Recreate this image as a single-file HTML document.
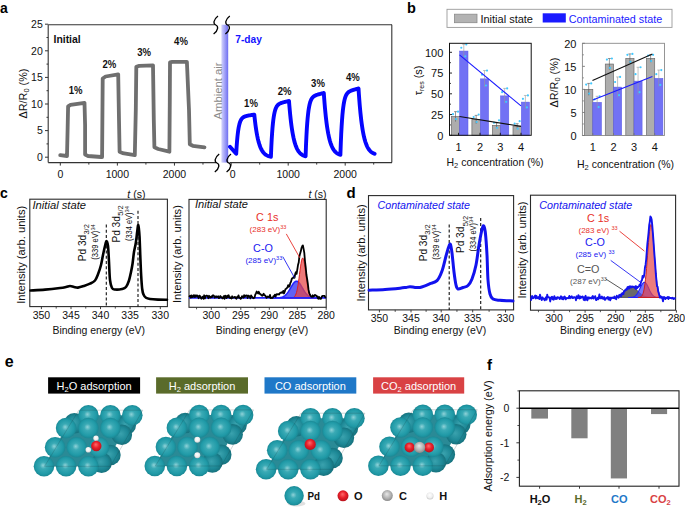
<!DOCTYPE html><html><head><meta charset="utf-8"><style>html,body{margin:0;padding:0;background:#fff;width:685px;height:513px;overflow:hidden}</style></head><body><svg width="685" height="513" viewBox="0 0 685 513" style="display:block">
<defs>
<linearGradient id="amb" x1="0" x2="1" y1="0" y2="0"><stop offset="0" stop-color="#d4d4fb"/><stop offset="1" stop-color="#6e6ef2"/></linearGradient>
<radialGradient id="pd" cx="0.5" cy="0.5" r="0.55" fx="0.45" fy="0.45"><stop offset="0" stop-color="#8fd2d8"/><stop offset="0.3" stop-color="#3aaab5"/><stop offset="0.72" stop-color="#209aa7"/><stop offset="1" stop-color="#187f8b"/></radialGradient>
<radialGradient id="pdb" cx="0.5" cy="0.5" r="0.55" fx="0.45" fy="0.45"><stop offset="0" stop-color="#3aa2ae"/><stop offset="0.6" stop-color="#1d8896"/><stop offset="1" stop-color="#156b76"/></radialGradient>
<radialGradient id="ox" cx="0.5" cy="0.45" r="0.6" fx="0.45" fy="0.35"><stop offset="0" stop-color="#ff6a6a"/><stop offset="0.5" stop-color="#e8202a"/><stop offset="1" stop-color="#b0101a"/></radialGradient>
<radialGradient id="hy" cx="0.5" cy="0.45" r="0.6" fx="0.45" fy="0.35"><stop offset="0" stop-color="#ffffff"/><stop offset="0.6" stop-color="#f0f0f0"/><stop offset="1" stop-color="#c0c0c0"/></radialGradient>
<radialGradient id="ca" cx="0.5" cy="0.45" r="0.6" fx="0.45" fy="0.35"><stop offset="0" stop-color="#e8e8e8"/><stop offset="0.6" stop-color="#b0b0b0"/><stop offset="1" stop-color="#808080"/></radialGradient>
</defs>
<rect width="685" height="513" fill="#fff"/>
<g font-family='"Liberation Sans", sans-serif'>
<text x="0.00" y="12.50" font-size="14" fill="#000" font-weight="bold" >a</text>
<line x1="48.20" y1="24.70" x2="214.50" y2="24.70" stroke="#333" stroke-width="1.1" />
<line x1="48.20" y1="162.60" x2="216.50" y2="162.60" stroke="#333" stroke-width="1.1" />
<line x1="48.20" y1="24.70" x2="48.20" y2="162.60" stroke="#333" stroke-width="1.1" />
<line x1="228.00" y1="24.70" x2="392.00" y2="24.70" stroke="#333" stroke-width="1.1" />
<line x1="229.50" y1="162.60" x2="392.00" y2="162.60" stroke="#333" stroke-width="1.1" />
<line x1="391.80" y1="24.70" x2="391.80" y2="162.60" stroke="#333" stroke-width="1.1" />
<rect x="221.40" y="24.70" width="6.80" height="137.90" fill="url(#amb)" stroke="none" stroke-width="1" />
<path d="M218.00,16 C212.80,20 213.30,24 215.80,25.00 C218.30,26 218.80,30 213.60,34" fill="none" stroke="#000" stroke-width="1.3"/>
<path d="M229.80,16 C224.60,20 225.10,24 227.60,25.00 C230.10,26 230.60,30 225.40,34" fill="none" stroke="#000" stroke-width="1.3"/>
<path d="M219.20,154 C214.00,158 214.50,162 217.00,163.00 C219.50,164 220.00,168 214.80,172" fill="none" stroke="#000" stroke-width="1.3"/>
<path d="M231.00,154 C225.80,158 226.30,162 228.80,163.00 C231.30,164 231.80,168 226.60,172" fill="none" stroke="#000" stroke-width="1.3"/>
<line x1="45.00" y1="157.20" x2="48.20" y2="157.20" stroke="#333" stroke-width="1" />
<text x="42.80" y="160.90" font-size="10.5" fill="#111" text-anchor="end" >0</text>
<line x1="45.00" y1="130.60" x2="48.20" y2="130.60" stroke="#333" stroke-width="1" />
<text x="42.80" y="134.30" font-size="10.5" fill="#111" text-anchor="end" >5</text>
<line x1="45.00" y1="104.00" x2="48.20" y2="104.00" stroke="#333" stroke-width="1" />
<text x="42.80" y="107.70" font-size="10.5" fill="#111" text-anchor="end" >10</text>
<line x1="45.00" y1="77.40" x2="48.20" y2="77.40" stroke="#333" stroke-width="1" />
<text x="42.80" y="81.10" font-size="10.5" fill="#111" text-anchor="end" >15</text>
<line x1="45.00" y1="50.80" x2="48.20" y2="50.80" stroke="#333" stroke-width="1" />
<text x="42.80" y="54.50" font-size="10.5" fill="#111" text-anchor="end" >20</text>
<line x1="45.00" y1="24.20" x2="48.20" y2="24.20" stroke="#333" stroke-width="1" />
<text x="42.80" y="27.90" font-size="10.5" fill="#111" text-anchor="end" >25</text>
<line x1="46.50" y1="143.90" x2="48.20" y2="143.90" stroke="#333" stroke-width="1" />
<line x1="46.50" y1="117.30" x2="48.20" y2="117.30" stroke="#333" stroke-width="1" />
<line x1="46.50" y1="90.70" x2="48.20" y2="90.70" stroke="#333" stroke-width="1" />
<line x1="46.50" y1="64.10" x2="48.20" y2="64.10" stroke="#333" stroke-width="1" />
<line x1="46.50" y1="37.50" x2="48.20" y2="37.50" stroke="#333" stroke-width="1" />
<line x1="60.30" y1="162.60" x2="60.30" y2="165.60" stroke="#333" stroke-width="1" />
<text x="60.30" y="177.50" font-size="10.5" fill="#111" text-anchor="middle" >0</text>
<line x1="117.37" y1="162.60" x2="117.37" y2="165.60" stroke="#333" stroke-width="1" />
<text x="117.37" y="177.50" font-size="10.5" fill="#111" text-anchor="middle" >1000</text>
<line x1="174.44" y1="162.60" x2="174.44" y2="165.60" stroke="#333" stroke-width="1" />
<text x="174.44" y="177.50" font-size="10.5" fill="#111" text-anchor="middle" >2000</text>
<line x1="88.83" y1="162.60" x2="88.83" y2="164.60" stroke="#333" stroke-width="1" />
<line x1="145.91" y1="162.60" x2="145.91" y2="164.60" stroke="#333" stroke-width="1" />
<line x1="202.98" y1="162.60" x2="202.98" y2="164.60" stroke="#333" stroke-width="1" />
<line x1="231.20" y1="162.60" x2="231.20" y2="165.60" stroke="#333" stroke-width="1" />
<text x="232.70" y="177.50" font-size="10.5" fill="#111" text-anchor="middle" >0</text>
<line x1="288.20" y1="162.60" x2="288.20" y2="165.60" stroke="#333" stroke-width="1" />
<text x="288.20" y="177.50" font-size="10.5" fill="#111" text-anchor="middle" >1000</text>
<line x1="345.20" y1="162.60" x2="345.20" y2="165.60" stroke="#333" stroke-width="1" />
<text x="345.20" y="177.50" font-size="10.5" fill="#111" text-anchor="middle" >2000</text>
<line x1="259.70" y1="162.60" x2="259.70" y2="164.60" stroke="#333" stroke-width="1" />
<line x1="316.70" y1="162.60" x2="316.70" y2="164.60" stroke="#333" stroke-width="1" />
<line x1="373.70" y1="162.60" x2="373.70" y2="164.60" stroke="#333" stroke-width="1" />
<text x="27.00" y="93.50" font-size="10.8" fill="#111" text-anchor="middle" transform="rotate(-90 27.00 93.50)" >&#916;R/R<tspan font-size="7.5" dy="2">0</tspan><tspan dy="-2"> (%)</tspan></text>
<polyline points="60.20,155.20 67.00,156.00 67.60,130.00 68.10,106.30 70.50,104.80 84.50,102.80 85.10,125.00 85.10,154.60 88.00,156.00 101.20,157.00 102.10,157.00 102.70,78.50 105.60,76.50 118.20,74.40 119.00,120.00 119.60,151.70 122.60,153.10 134.80,155.20 135.80,110.00 136.30,66.80 139.20,65.90 153.00,65.30 153.80,120.00 154.40,147.30 158.20,149.00 169.40,151.70 169.80,100.00 170.00,62.40 172.30,61.80 186.90,61.80 189.00,110.00 189.80,144.30 192.80,145.80 204.50,147.30" fill="none" stroke="#6f6f6f" stroke-width="3.8" stroke-linejoin="round" stroke-linecap="round" />
<text x="53.50" y="42.50" font-size="10.2" fill="#111" font-weight="bold" textLength="27.2" lengthAdjust="spacingAndGlyphs" >Initial</text>
<text x="75.70" y="94.20" font-size="10.6" fill="#111" text-anchor="middle" font-weight="bold" textLength="13.8" lengthAdjust="spacingAndGlyphs" >1%</text>
<text x="109.40" y="67.90" font-size="10.6" fill="#111" text-anchor="middle" font-weight="bold" textLength="13.8" lengthAdjust="spacingAndGlyphs" >2%</text>
<text x="144.20" y="55.60" font-size="10.6" fill="#111" text-anchor="middle" font-weight="bold" textLength="13.8" lengthAdjust="spacingAndGlyphs" >3%</text>
<text x="181.00" y="44.50" font-size="10.6" fill="#111" text-anchor="middle" font-weight="bold" textLength="13.8" lengthAdjust="spacingAndGlyphs" >4%</text>
<text x="235.30" y="42.50" font-size="10.5" fill="#1414ff" font-weight="bold" textLength="26.6" lengthAdjust="spacingAndGlyphs" >7-day</text>
<text x="251.00" y="107.00" font-size="10.6" fill="#111" text-anchor="middle" font-weight="bold" textLength="13.8" lengthAdjust="spacingAndGlyphs" >1%</text>
<text x="284.60" y="95.30" font-size="10.6" fill="#111" text-anchor="middle" font-weight="bold" textLength="13.8" lengthAdjust="spacingAndGlyphs" >2%</text>
<text x="318.00" y="87.10" font-size="10.6" fill="#111" text-anchor="middle" font-weight="bold" textLength="13.8" lengthAdjust="spacingAndGlyphs" >3%</text>
<text x="352.80" y="80.50" font-size="10.6" fill="#111" text-anchor="middle" font-weight="bold" textLength="13.8" lengthAdjust="spacingAndGlyphs" >4%</text>
<text x="218.00" y="91.00" font-size="11" fill="#8a8a8a" text-anchor="middle" textLength="57" lengthAdjust="spacingAndGlyphs" transform="rotate(-90 218.00 91.00)" dy="3.5">Ambient air</text>
<polyline points="230.00,146.80 236.20,153.80 236.60,147.10 237.00,141.60 237.41,137.10 237.81,133.41 238.21,130.37 238.61,127.88 239.02,125.83 239.42,124.15 239.82,122.76 240.22,121.61 240.62,120.66 241.03,119.87 241.43,119.22 241.83,118.67 242.23,118.21 242.64,117.82 243.04,117.50 243.44,117.22 243.84,116.98 244.24,116.77 244.65,116.59 245.05,116.44 245.45,116.29 245.85,116.17 246.26,116.05 246.66,115.95 247.06,115.85 247.46,115.76 247.86,115.68 248.27,115.60 248.67,115.52 249.07,115.45 249.47,115.38 249.88,115.31 250.28,115.24 250.68,115.17 251.08,115.10 251.48,115.04 251.89,114.98 252.29,114.91 252.69,114.85 253.09,114.79 253.50,114.72 253.90,114.66 254.30,114.60 254.70,118.47 255.11,122.00 255.51,125.21 255.92,128.13 256.32,130.79 256.73,133.21 257.13,135.41 257.54,137.41 257.94,139.24 258.35,140.90 258.75,142.41 259.16,143.78 259.56,145.03 259.97,146.17 260.37,147.21 260.78,148.15 261.18,149.01 261.59,149.79 261.99,150.50 262.40,151.15 262.80,151.74 263.21,152.28 263.61,152.76 264.02,153.21 264.42,153.61 264.83,153.98 265.23,154.32 265.64,154.62 266.04,154.90 266.45,155.15 266.85,155.38 267.26,155.59 267.66,155.78 268.07,155.95 268.47,156.11 268.88,156.25 269.28,156.38 269.69,156.50 270.09,156.61 270.50,156.71 270.90,156.80 271.30,147.26 271.70,139.44 272.11,133.03 272.51,127.77 272.91,123.45 273.31,119.91 273.72,116.99 274.12,114.59 274.52,112.61 274.92,110.98 275.32,109.63 275.73,108.50 276.13,107.57 276.53,106.79 276.93,106.14 277.34,105.59 277.74,105.12 278.14,104.73 278.54,104.39 278.94,104.09 279.35,103.84 279.75,103.61 280.15,103.41 280.55,103.23 280.96,103.07 281.36,102.92 281.76,102.78 282.16,102.66 282.56,102.53 282.97,102.42 283.37,102.31 283.77,102.21 284.17,102.10 284.58,102.00 284.98,101.91 285.38,101.81 285.78,101.72 286.18,101.63 286.59,101.54 286.99,101.44 287.39,101.35 287.79,101.27 288.20,101.18 288.60,101.09 289.00,101.00 289.40,106.08 289.81,110.70 290.21,114.90 290.62,118.73 291.02,122.21 291.43,125.38 291.83,128.27 292.24,130.89 292.64,133.28 293.05,135.46 293.45,137.44 293.86,139.24 294.26,140.88 294.67,142.37 295.07,143.73 295.48,144.97 295.88,146.09 296.29,147.12 296.69,148.05 297.10,148.90 297.50,149.67 297.91,150.37 298.31,151.01 298.72,151.59 299.12,152.12 299.53,152.61 299.93,153.04 300.34,153.44 300.74,153.81 301.15,154.14 301.55,154.44 301.96,154.71 302.36,154.96 302.77,155.19 303.17,155.40 303.58,155.58 303.98,155.76 304.39,155.91 304.79,156.05 305.20,156.18 305.60,156.30 306.00,145.42 306.41,136.52 306.81,129.23 307.22,123.25 307.62,118.35 308.03,114.33 308.43,111.03 308.84,108.31 309.24,106.08 309.64,104.23 310.05,102.71 310.45,101.44 310.86,100.39 311.26,99.52 311.67,98.78 312.07,98.17 312.48,97.64 312.88,97.20 313.28,96.82 313.69,96.49 314.09,96.20 314.50,95.95 314.90,95.72 315.31,95.52 315.71,95.34 316.12,95.17 316.52,95.02 316.92,94.87 317.33,94.74 317.73,94.61 318.14,94.48 318.54,94.36 318.95,94.25 319.35,94.14 319.76,94.03 320.16,93.92 320.56,93.81 320.97,93.71 321.37,93.61 321.78,93.50 322.18,93.40 322.59,93.30 322.99,93.20 323.40,93.10 323.80,93.00 324.20,98.67 324.61,103.84 325.01,108.54 325.42,112.81 325.82,116.70 326.23,120.25 326.63,123.47 327.04,126.41 327.44,129.08 327.85,131.51 328.25,133.72 328.66,135.73 329.06,137.57 329.47,139.24 329.87,140.75 330.28,142.13 330.68,143.39 331.09,144.54 331.49,145.58 331.90,146.53 332.30,147.39 332.71,148.18 333.11,148.89 333.52,149.54 333.92,150.13 334.33,150.67 334.73,151.16 335.14,151.61 335.54,152.01 335.95,152.38 336.35,152.72 336.76,153.03 337.16,153.31 337.57,153.56 337.97,153.79 338.38,154.00 338.78,154.19 339.19,154.37 339.59,154.52 340.00,154.67 340.40,154.80 340.80,143.46 341.20,134.17 341.61,126.55 342.01,120.31 342.41,115.18 342.81,110.97 343.22,107.50 343.62,104.65 344.02,102.30 344.42,100.36 344.82,98.75 345.23,97.42 345.63,96.31 346.03,95.38 346.43,94.61 346.84,93.95 347.24,93.40 347.64,92.93 348.04,92.52 348.44,92.18 348.85,91.87 349.25,91.60 349.65,91.37 350.05,91.15 350.46,90.96 350.86,90.78 351.26,90.62 351.66,90.47 352.06,90.32 352.47,90.19 352.87,90.06 353.27,89.93 353.67,89.81 354.08,89.69 354.48,89.58 354.88,89.47 355.28,89.35 355.68,89.24 356.09,89.14 356.49,89.03 356.89,88.92 357.29,88.82 357.70,88.71 358.10,88.60 358.50,88.50 358.90,94.48 359.31,99.92 359.71,104.87 360.11,109.39 360.51,113.50 360.92,117.24 361.32,120.65 361.72,123.75 362.12,126.58 362.52,129.15 362.93,131.50 363.33,133.63 363.73,135.57 364.13,137.34 364.54,138.96 364.94,140.42 365.34,141.76 365.75,142.98 366.15,144.09 366.55,145.10 366.95,146.01 367.36,146.85 367.76,147.61 368.16,148.31 368.56,148.94 368.96,149.52 369.37,150.04 369.77,150.52 370.17,150.95 370.57,151.35 370.98,151.71 371.38,152.04 371.78,152.34 372.19,152.61 372.59,152.86 372.99,153.08 373.39,153.29 373.80,153.47 374.20,153.64 374.60,153.80" fill="none" stroke="#0505ff" stroke-width="3.9" stroke-linejoin="round" stroke-linecap="round" />
<text x="407.00" y="13.20" font-size="14.5" fill="#000" font-weight="bold" >b</text>
<rect x="447.00" y="9.30" width="225.00" height="18.10" fill="#fff" stroke="#9a9a9a" stroke-width="0.9" />
<rect x="454.50" y="14.20" width="22.50" height="8.50" fill="#b3b3b3" stroke="#8a8a8a" stroke-width="0.8" />
<text x="480.40" y="23.20" font-size="11.6" fill="#111" textLength="52.6" lengthAdjust="spacingAndGlyphs" >Initial state</text>
<rect x="542.70" y="13.30" width="23.10" height="9.20" fill="#1a1aff" stroke="none" stroke-width="1" />
<text x="568.80" y="23.20" font-size="11.6" fill="#1a1aff" textLength="93.4" lengthAdjust="spacingAndGlyphs" >Contaminated state</text>
<rect x="451.40" y="116.63" width="8.20" height="18.67" fill="#adadad" stroke="#6a6a6a" stroke-width="0.7" />
<rect x="459.60" y="51.06" width="8.40" height="84.24" fill="#7272f4" stroke="#5a5ae8" stroke-width="0.5" />
<line x1="455.50" y1="121.61" x2="455.50" y2="111.65" stroke="#555" stroke-width="0.6" />
<line x1="454.00" y1="111.65" x2="457.00" y2="111.65" stroke="#555" stroke-width="0.6" />
<line x1="463.80" y1="57.70" x2="463.80" y2="44.42" stroke="#999" stroke-width="0.6" />
<line x1="462.30" y1="44.42" x2="465.30" y2="44.42" stroke="#999" stroke-width="0.6" />
<circle cx="453.00" cy="114.14" r="1.1" fill="#40c8ff"/>
<circle cx="458.00" cy="111.65" r="1.1" fill="#40c8ff"/>
<circle cx="456.00" cy="119.12" r="1.1" fill="#40c8ff"/>
<circle cx="461.30" cy="47.74" r="1.1" fill="#40c8ff"/>
<circle cx="466.30" cy="44.42" r="1.1" fill="#40c8ff"/>
<circle cx="465.30" cy="56.37" r="1.1" fill="#40c8ff"/>
<rect x="471.90" y="119.53" width="8.50" height="15.77" fill="#adadad" stroke="#6a6a6a" stroke-width="0.7" />
<rect x="480.40" y="78.86" width="8.20" height="56.44" fill="#7272f4" stroke="#5a5ae8" stroke-width="0.5" />
<line x1="476.15" y1="123.68" x2="476.15" y2="115.38" stroke="#555" stroke-width="0.6" />
<line x1="474.65" y1="115.38" x2="477.65" y2="115.38" stroke="#555" stroke-width="0.6" />
<line x1="484.50" y1="87.16" x2="484.50" y2="70.56" stroke="#999" stroke-width="0.6" />
<line x1="483.00" y1="70.56" x2="486.00" y2="70.56" stroke="#999" stroke-width="0.6" />
<circle cx="473.65" cy="117.04" r="1.1" fill="#40c8ff"/>
<circle cx="478.65" cy="114.55" r="1.1" fill="#40c8ff"/>
<circle cx="476.65" cy="122.02" r="1.1" fill="#40c8ff"/>
<circle cx="482.00" cy="74.71" r="1.1" fill="#40c8ff"/>
<circle cx="487.00" cy="70.56" r="1.1" fill="#40c8ff"/>
<circle cx="486.00" cy="85.50" r="1.1" fill="#40c8ff"/>
<rect x="492.50" y="125.34" width="8.00" height="9.96" fill="#adadad" stroke="#6a6a6a" stroke-width="0.7" />
<rect x="500.50" y="95.88" width="8.30" height="39.42" fill="#7272f4" stroke="#5a5ae8" stroke-width="0.5" />
<line x1="496.50" y1="127.83" x2="496.50" y2="122.85" stroke="#555" stroke-width="0.6" />
<line x1="495.00" y1="122.85" x2="498.00" y2="122.85" stroke="#555" stroke-width="0.6" />
<line x1="504.65" y1="103.35" x2="504.65" y2="88.41" stroke="#999" stroke-width="0.6" />
<line x1="503.15" y1="88.41" x2="506.15" y2="88.41" stroke="#999" stroke-width="0.6" />
<circle cx="494.00" cy="122.85" r="1.1" fill="#40c8ff"/>
<circle cx="499.00" cy="120.36" r="1.1" fill="#40c8ff"/>
<circle cx="497.00" cy="127.83" r="1.1" fill="#40c8ff"/>
<circle cx="502.15" cy="92.14" r="1.1" fill="#40c8ff"/>
<circle cx="507.15" cy="88.41" r="1.1" fill="#40c8ff"/>
<circle cx="506.15" cy="101.85" r="1.1" fill="#40c8ff"/>
<rect x="513.00" y="126.17" width="8.30" height="9.13" fill="#adadad" stroke="#6a6a6a" stroke-width="0.7" />
<rect x="521.30" y="102.10" width="8.20" height="33.20" fill="#7272f4" stroke="#5a5ae8" stroke-width="0.5" />
<line x1="517.15" y1="128.66" x2="517.15" y2="123.68" stroke="#555" stroke-width="0.6" />
<line x1="515.65" y1="123.68" x2="518.65" y2="123.68" stroke="#555" stroke-width="0.6" />
<line x1="525.40" y1="108.74" x2="525.40" y2="95.46" stroke="#999" stroke-width="0.6" />
<line x1="523.90" y1="95.46" x2="526.90" y2="95.46" stroke="#999" stroke-width="0.6" />
<circle cx="514.65" cy="123.68" r="1.1" fill="#40c8ff"/>
<circle cx="519.65" cy="121.19" r="1.1" fill="#40c8ff"/>
<circle cx="517.65" cy="128.66" r="1.1" fill="#40c8ff"/>
<circle cx="522.90" cy="98.78" r="1.1" fill="#40c8ff"/>
<circle cx="527.90" cy="95.46" r="1.1" fill="#40c8ff"/>
<circle cx="526.90" cy="107.41" r="1.1" fill="#40c8ff"/>
<line x1="459.50" y1="54.80" x2="521.00" y2="105.90" stroke="#1a1aff" stroke-width="1.1" />
<line x1="459.50" y1="116.50" x2="521.00" y2="126.40" stroke="#111" stroke-width="1.1" />
<rect x="449.50" y="43.30" width="81.70" height="92.00" fill="none" stroke="#111" stroke-width="1" />
<line x1="449.50" y1="135.30" x2="452.00" y2="135.30" stroke="#111" stroke-width="0.9" />
<text x="443.30" y="139.60" font-size="11" fill="#111" text-anchor="end" >0</text>
<line x1="449.50" y1="114.55" x2="452.00" y2="114.55" stroke="#111" stroke-width="0.9" />
<text x="443.30" y="118.85" font-size="11" fill="#111" text-anchor="end" >25</text>
<line x1="449.50" y1="93.80" x2="452.00" y2="93.80" stroke="#111" stroke-width="0.9" />
<text x="443.30" y="98.10" font-size="11" fill="#111" text-anchor="end" >50</text>
<line x1="449.50" y1="73.05" x2="452.00" y2="73.05" stroke="#111" stroke-width="0.9" />
<text x="443.30" y="77.35" font-size="11" fill="#111" text-anchor="end" >75</text>
<line x1="449.50" y1="52.30" x2="452.00" y2="52.30" stroke="#111" stroke-width="0.9" />
<text x="443.30" y="56.60" font-size="11" fill="#111" text-anchor="end" >100</text>
<line x1="449.50" y1="124.93" x2="451.00" y2="124.93" stroke="#111" stroke-width="0.8" />
<line x1="449.50" y1="104.18" x2="451.00" y2="104.18" stroke="#111" stroke-width="0.8" />
<line x1="449.50" y1="83.43" x2="451.00" y2="83.43" stroke="#111" stroke-width="0.8" />
<line x1="449.50" y1="62.68" x2="451.00" y2="62.68" stroke="#111" stroke-width="0.8" />
<line x1="458.50" y1="135.30" x2="458.50" y2="132.80" stroke="#111" stroke-width="0.9" />
<text x="458.50" y="151.00" font-size="11" fill="#111" text-anchor="middle" >1</text>
<line x1="480.00" y1="135.30" x2="480.00" y2="132.80" stroke="#111" stroke-width="0.9" />
<text x="480.00" y="151.00" font-size="11" fill="#111" text-anchor="middle" >2</text>
<line x1="500.30" y1="135.30" x2="500.30" y2="132.80" stroke="#111" stroke-width="0.9" />
<text x="500.30" y="151.00" font-size="11" fill="#111" text-anchor="middle" >3</text>
<line x1="521.00" y1="135.30" x2="521.00" y2="132.80" stroke="#111" stroke-width="0.9" />
<text x="521.00" y="151.00" font-size="11" fill="#111" text-anchor="middle" >4</text>
<text x="495.00" y="166.40" font-size="10.5" fill="#111" text-anchor="middle" >H<tspan font-size="7.5" dy="2">2</tspan><tspan dy="-2"> concentration (%)</tspan></text>
<text x="422.20" y="80.50" font-size="10.8" fill="#111" text-anchor="middle" transform="rotate(-90 422.20 80.50)" >&#964;<tspan font-size="7" dy="2">res</tspan><tspan dy="-2"> (s)</tspan></text>
<rect x="584.60" y="89.40" width="8.20" height="46.10" fill="#adadad" stroke="#6a6a6a" stroke-width="0.7" />
<rect x="592.80" y="102.31" width="8.70" height="33.19" fill="#7272f4" stroke="#5a5ae8" stroke-width="0.5" />
<line x1="588.70" y1="95.39" x2="588.70" y2="83.41" stroke="#555" stroke-width="0.6" />
<line x1="587.20" y1="83.41" x2="590.20" y2="83.41" stroke="#555" stroke-width="0.6" />
<line x1="597.15" y1="108.30" x2="597.15" y2="96.31" stroke="#999" stroke-width="0.6" />
<line x1="595.65" y1="96.31" x2="598.65" y2="96.31" stroke="#999" stroke-width="0.6" />
<circle cx="586.20" cy="84.61" r="1.1" fill="#40c8ff"/>
<circle cx="591.20" cy="83.41" r="1.1" fill="#40c8ff"/>
<circle cx="589.20" cy="93.60" r="1.1" fill="#40c8ff"/>
<circle cx="594.65" cy="99.31" r="1.1" fill="#40c8ff"/>
<circle cx="599.65" cy="96.31" r="1.1" fill="#40c8ff"/>
<circle cx="598.65" cy="107.10" r="1.1" fill="#40c8ff"/>
<rect x="605.30" y="64.05" width="8.20" height="71.45" fill="#adadad" stroke="#6a6a6a" stroke-width="0.7" />
<rect x="613.50" y="87.09" width="8.20" height="48.41" fill="#7272f4" stroke="#5a5ae8" stroke-width="0.5" />
<line x1="609.40" y1="69.58" x2="609.40" y2="58.51" stroke="#555" stroke-width="0.6" />
<line x1="607.90" y1="58.51" x2="610.90" y2="58.51" stroke="#555" stroke-width="0.6" />
<line x1="617.60" y1="97.24" x2="617.60" y2="76.95" stroke="#999" stroke-width="0.6" />
<line x1="616.10" y1="76.95" x2="619.10" y2="76.95" stroke="#999" stroke-width="0.6" />
<circle cx="606.90" cy="59.62" r="1.1" fill="#40c8ff"/>
<circle cx="611.90" cy="58.51" r="1.1" fill="#40c8ff"/>
<circle cx="609.90" cy="67.92" r="1.1" fill="#40c8ff"/>
<circle cx="615.10" cy="82.02" r="1.1" fill="#40c8ff"/>
<circle cx="620.10" cy="76.95" r="1.1" fill="#40c8ff"/>
<circle cx="619.10" cy="95.21" r="1.1" fill="#40c8ff"/>
<rect x="625.80" y="58.51" width="8.20" height="76.99" fill="#adadad" stroke="#6a6a6a" stroke-width="0.7" />
<rect x="634.00" y="81.10" width="8.10" height="54.40" fill="#7272f4" stroke="#5a5ae8" stroke-width="0.5" />
<line x1="629.90" y1="63.12" x2="629.90" y2="53.90" stroke="#555" stroke-width="0.6" />
<line x1="628.40" y1="53.90" x2="631.40" y2="53.90" stroke="#555" stroke-width="0.6" />
<line x1="638.05" y1="94.93" x2="638.05" y2="67.27" stroke="#999" stroke-width="0.6" />
<line x1="636.55" y1="67.27" x2="639.55" y2="67.27" stroke="#999" stroke-width="0.6" />
<circle cx="627.40" cy="54.82" r="1.1" fill="#40c8ff"/>
<circle cx="632.40" cy="53.90" r="1.1" fill="#40c8ff"/>
<circle cx="630.40" cy="61.74" r="1.1" fill="#40c8ff"/>
<circle cx="635.55" cy="74.19" r="1.1" fill="#40c8ff"/>
<circle cx="640.55" cy="67.27" r="1.1" fill="#40c8ff"/>
<circle cx="639.55" cy="92.17" r="1.1" fill="#40c8ff"/>
<rect x="646.50" y="58.51" width="8.20" height="76.99" fill="#adadad" stroke="#6a6a6a" stroke-width="0.7" />
<rect x="654.70" y="78.34" width="8.20" height="57.16" fill="#7272f4" stroke="#5a5ae8" stroke-width="0.5" />
<line x1="650.60" y1="62.20" x2="650.60" y2="54.82" stroke="#555" stroke-width="0.6" />
<line x1="649.10" y1="54.82" x2="652.10" y2="54.82" stroke="#555" stroke-width="0.6" />
<line x1="658.80" y1="86.63" x2="658.80" y2="70.04" stroke="#999" stroke-width="0.6" />
<line x1="657.30" y1="70.04" x2="660.30" y2="70.04" stroke="#999" stroke-width="0.6" />
<circle cx="648.10" cy="55.56" r="1.1" fill="#40c8ff"/>
<circle cx="653.10" cy="54.82" r="1.1" fill="#40c8ff"/>
<circle cx="651.10" cy="61.09" r="1.1" fill="#40c8ff"/>
<circle cx="656.30" cy="74.19" r="1.1" fill="#40c8ff"/>
<circle cx="661.30" cy="70.04" r="1.1" fill="#40c8ff"/>
<circle cx="660.30" cy="84.97" r="1.1" fill="#40c8ff"/>
<line x1="592.50" y1="80.50" x2="652.40" y2="54.00" stroke="#111" stroke-width="1.1" />
<line x1="592.80" y1="100.00" x2="652.40" y2="76.60" stroke="#1a1aff" stroke-width="1.1" />
<rect x="582.40" y="43.30" width="82.10" height="92.20" fill="none" stroke="#8a8a8a" stroke-width="0.9" />
<line x1="582.40" y1="135.50" x2="584.90" y2="135.50" stroke="#777" stroke-width="0.9" />
<text x="576.50" y="139.80" font-size="11" fill="#111" text-anchor="end" >0</text>
<line x1="582.40" y1="112.45" x2="584.90" y2="112.45" stroke="#777" stroke-width="0.9" />
<text x="576.50" y="116.75" font-size="11" fill="#111" text-anchor="end" >5</text>
<line x1="582.40" y1="89.40" x2="584.90" y2="89.40" stroke="#777" stroke-width="0.9" />
<text x="576.50" y="93.70" font-size="11" fill="#111" text-anchor="end" >10</text>
<line x1="582.40" y1="66.35" x2="584.90" y2="66.35" stroke="#777" stroke-width="0.9" />
<text x="576.50" y="70.65" font-size="11" fill="#111" text-anchor="end" >15</text>
<line x1="582.40" y1="43.30" x2="584.90" y2="43.30" stroke="#777" stroke-width="0.9" />
<text x="576.50" y="47.60" font-size="11" fill="#111" text-anchor="end" >20</text>
<line x1="582.40" y1="123.97" x2="583.90" y2="123.97" stroke="#777" stroke-width="0.8" />
<line x1="582.40" y1="100.92" x2="583.90" y2="100.92" stroke="#777" stroke-width="0.8" />
<line x1="582.40" y1="77.88" x2="583.90" y2="77.88" stroke="#777" stroke-width="0.8" />
<line x1="582.40" y1="54.82" x2="583.90" y2="54.82" stroke="#777" stroke-width="0.8" />
<line x1="592.80" y1="135.50" x2="592.80" y2="133.00" stroke="#777" stroke-width="0.9" />
<text x="592.80" y="151.30" font-size="11" fill="#111" text-anchor="middle" >1</text>
<line x1="613.50" y1="135.50" x2="613.50" y2="133.00" stroke="#777" stroke-width="0.9" />
<text x="613.50" y="151.30" font-size="11" fill="#111" text-anchor="middle" >2</text>
<line x1="634.00" y1="135.50" x2="634.00" y2="133.00" stroke="#777" stroke-width="0.9" />
<text x="634.00" y="151.30" font-size="11" fill="#111" text-anchor="middle" >3</text>
<line x1="654.70" y1="135.50" x2="654.70" y2="133.00" stroke="#777" stroke-width="0.9" />
<text x="654.70" y="151.30" font-size="11" fill="#111" text-anchor="middle" >4</text>
<text x="625.50" y="167.70" font-size="10.5" fill="#111" text-anchor="middle" >H<tspan font-size="7.5" dy="2">2</tspan><tspan dy="-2"> concentration (%)</tspan></text>
<text x="557.80" y="82.50" font-size="10.8" fill="#111" text-anchor="middle" transform="rotate(-90 557.80 82.50)" >&#916;R/R<tspan font-size="7.5" dy="2">0</tspan><tspan dy="-2"> (%)</tspan></text>
<text x="0.00" y="197.50" font-size="14" fill="#000" font-weight="bold" >c</text>
<text x="127.30" y="197.50" font-size="10.5" fill="#111" ><tspan font-style="italic">t</tspan> (s)</text>
<text x="308.50" y="197.50" font-size="10.5" fill="#111" ><tspan font-style="italic">t</tspan> (s)</text>
<rect x="29.80" y="199.20" width="137.60" height="107.40" fill="none" stroke="#2a2a2a" stroke-width="1.1" />
<line x1="41.40" y1="306.60" x2="41.40" y2="309.10" stroke="#2a2a2a" stroke-width="0.9" />
<text x="41.40" y="319.10" font-size="10.5" fill="#111" text-anchor="middle" >350</text>
<line x1="56.20" y1="306.60" x2="56.20" y2="308.60" stroke="#2a2a2a" stroke-width="0.8" />
<line x1="71.00" y1="306.60" x2="71.00" y2="309.10" stroke="#2a2a2a" stroke-width="0.9" />
<text x="71.00" y="319.10" font-size="10.5" fill="#111" text-anchor="middle" >345</text>
<line x1="85.75" y1="306.60" x2="85.75" y2="308.60" stroke="#2a2a2a" stroke-width="0.8" />
<line x1="100.50" y1="306.60" x2="100.50" y2="309.10" stroke="#2a2a2a" stroke-width="0.9" />
<text x="100.50" y="319.10" font-size="10.5" fill="#111" text-anchor="middle" >340</text>
<line x1="115.30" y1="306.60" x2="115.30" y2="308.60" stroke="#2a2a2a" stroke-width="0.8" />
<line x1="130.10" y1="306.60" x2="130.10" y2="309.10" stroke="#2a2a2a" stroke-width="0.9" />
<text x="130.10" y="319.10" font-size="10.5" fill="#111" text-anchor="middle" >335</text>
<line x1="145.20" y1="306.60" x2="145.20" y2="308.60" stroke="#2a2a2a" stroke-width="0.8" />
<line x1="160.30" y1="306.60" x2="160.30" y2="309.10" stroke="#2a2a2a" stroke-width="0.9" />
<text x="160.30" y="319.10" font-size="10.5" fill="#111" text-anchor="middle" >330</text>
<text x="98.70" y="334.40" font-size="10.8" fill="#111" text-anchor="middle" textLength="92.6" lengthAdjust="spacingAndGlyphs" >Binding energy (eV)</text>
<text x="20.80" y="254.80" font-size="10.8" fill="#111" text-anchor="middle" textLength="98" lengthAdjust="spacingAndGlyphs" transform="rotate(-90 20.80 254.80)" dy="3.8">Intensity (arb. units)</text>
<text x="32.50" y="208.90" font-size="11" fill="#111" font-style="italic" textLength="53.5" lengthAdjust="spacingAndGlyphs" >Initial state</text>
<line x1="106.30" y1="224.60" x2="106.30" y2="306.60" stroke="#111" stroke-width="1.1" stroke-dasharray="3,2.2"/>
<line x1="138.00" y1="210.70" x2="138.00" y2="306.60" stroke="#111" stroke-width="1.1" stroke-dasharray="3,2.2"/>
<path d="M30.50,290.50 C32.92,290.35 40.08,290.02 45.00,289.60 C49.92,289.18 56.50,288.43 60.00,288.00 C63.50,287.57 64.33,287.33 66.00,287.00 C67.67,286.67 68.67,286.00 70.00,286.00 C71.33,286.00 72.67,286.73 74.00,287.00 C75.33,287.27 76.33,287.77 78.00,287.60 C79.67,287.43 82.00,286.65 84.00,286.00 C86.00,285.35 88.17,284.62 90.00,283.70 C91.83,282.78 93.67,282.07 95.00,280.50 C96.33,278.93 97.00,276.88 98.00,274.30 C99.00,271.72 100.17,268.22 101.00,265.00 C101.83,261.78 102.33,258.17 103.00,255.00 C103.67,251.83 104.42,248.33 105.00,246.00 C105.58,243.67 106.00,241.00 106.50,241.00 C107.00,241.00 107.58,242.50 108.00,246.00 C108.42,249.50 108.67,256.33 109.00,262.00 C109.33,267.67 109.50,275.67 110.00,280.00 C110.50,284.33 111.17,286.42 112.00,288.00 C112.83,289.58 113.33,289.33 115.00,289.50 C116.67,289.67 120.17,289.42 122.00,289.00 C123.83,288.58 124.83,288.42 126.00,287.00 C127.17,285.58 128.17,283.00 129.00,280.50 C129.83,278.00 130.42,274.75 131.00,272.00 C131.58,269.25 132.00,267.33 132.50,264.00 C133.00,260.67 133.45,255.50 134.00,252.00 C134.55,248.50 135.25,246.50 135.80,243.00 C136.35,239.50 136.88,233.97 137.30,231.00 C137.72,228.03 137.93,224.37 138.30,225.20 C138.67,226.03 139.17,230.87 139.50,236.00 C139.83,241.13 140.02,249.33 140.30,256.00 C140.58,262.67 140.88,270.50 141.20,276.00 C141.52,281.50 141.82,285.92 142.20,289.00 C142.58,292.08 142.87,293.03 143.50,294.50 C144.13,295.97 144.92,297.05 146.00,297.80 C147.08,298.55 148.00,298.70 150.00,299.00 C152.00,299.30 155.17,299.47 158.00,299.60 C160.83,299.73 165.50,299.77 167.00,299.80" fill="none" stroke="#000" stroke-width="2.6" stroke-linejoin="round" stroke-linecap="round" />
<g transform="translate(85.70,261.20) rotate(-90)">
<text x="0" y="0" font-size="10.8" fill="#111" textLength="26.3" lengthAdjust="spacingAndGlyphs">Pd 3d</text>
<text x="26.60" y="3.2" font-size="7" fill="#111" textLength="10.5" lengthAdjust="spacingAndGlyphs">3/2</text>
<text x="1.5" y="12.40" font-size="8.4" fill="#111" textLength="29.0" lengthAdjust="spacingAndGlyphs">(339 eV)</text>
<text x="30.60" y="9.70" font-size="5.8" fill="#111">34</text>
</g>
<g transform="translate(120.20,242.60) rotate(-90)">
<text x="0" y="0" font-size="10.8" fill="#111" textLength="26.5" lengthAdjust="spacingAndGlyphs">Pd 3d</text>
<text x="26.80" y="3.2" font-size="7" fill="#111" textLength="10.5" lengthAdjust="spacingAndGlyphs">5/2</text>
<text x="1.5" y="11.70" font-size="8.4" fill="#111" textLength="28.6" lengthAdjust="spacingAndGlyphs">(334 eV)</text>
<text x="30.20" y="9.00" font-size="5.8" fill="#111">34</text>
</g>
<rect x="189.00" y="199.40" width="137.20" height="107.90" fill="none" stroke="#2a2a2a" stroke-width="1.1" />
<line x1="211.30" y1="307.30" x2="211.30" y2="309.80" stroke="#2a2a2a" stroke-width="0.9" />
<text x="211.30" y="319.10" font-size="10.5" fill="#111" text-anchor="middle" >300</text>
<line x1="226.05" y1="307.30" x2="226.05" y2="309.30" stroke="#2a2a2a" stroke-width="0.8" />
<line x1="240.80" y1="307.30" x2="240.80" y2="309.80" stroke="#2a2a2a" stroke-width="0.9" />
<text x="240.80" y="319.10" font-size="10.5" fill="#111" text-anchor="middle" >295</text>
<line x1="255.05" y1="307.30" x2="255.05" y2="309.30" stroke="#2a2a2a" stroke-width="0.8" />
<line x1="269.30" y1="307.30" x2="269.30" y2="309.80" stroke="#2a2a2a" stroke-width="0.9" />
<text x="269.30" y="319.10" font-size="10.5" fill="#111" text-anchor="middle" >290</text>
<line x1="283.30" y1="307.30" x2="283.30" y2="309.30" stroke="#2a2a2a" stroke-width="0.8" />
<line x1="297.30" y1="307.30" x2="297.30" y2="309.80" stroke="#2a2a2a" stroke-width="0.9" />
<text x="297.30" y="319.10" font-size="10.5" fill="#111" text-anchor="middle" >285</text>
<line x1="311.75" y1="307.30" x2="311.75" y2="309.30" stroke="#2a2a2a" stroke-width="0.8" />
<line x1="326.20" y1="307.30" x2="326.20" y2="309.80" stroke="#2a2a2a" stroke-width="0.9" />
<text x="326.20" y="319.10" font-size="10.5" fill="#111" text-anchor="middle" >280</text>
<line x1="196.55" y1="307.30" x2="196.55" y2="309.30" stroke="#2a2a2a" stroke-width="0.8" />
<text x="262.00" y="334.40" font-size="10.8" fill="#111" text-anchor="middle" textLength="92.6" lengthAdjust="spacingAndGlyphs" >Binding energy (eV)</text>
<text x="177.00" y="254.10" font-size="10.8" fill="#111" text-anchor="middle" textLength="98" lengthAdjust="spacingAndGlyphs" transform="rotate(-90 177.00 254.10)" dy="3.8">Intensity (arb. units)</text>
<text x="195.00" y="208.30" font-size="11" fill="#111" font-style="italic" textLength="53" lengthAdjust="spacingAndGlyphs" >Initial state</text>
<path d="M272.00,297.90 L272.50,297.90 L273.00,297.90 L273.50,297.89 L274.00,297.89 L274.50,297.89 L275.00,297.88 L275.50,297.88 L276.00,297.87 L276.50,297.86 L277.00,297.84 L277.50,297.82 L278.00,297.80 L278.50,297.76 L279.00,297.72 L279.50,297.67 L280.00,297.61 L280.50,297.53 L281.00,297.43 L281.50,297.31 L282.00,297.17 L282.50,296.99 L283.00,296.79 L283.50,296.55 L284.00,296.26 L284.50,295.94 L285.00,295.56 L285.50,295.14 L286.00,294.66 L286.50,294.12 L287.00,293.53 L287.50,292.89 L288.00,292.19 L288.50,291.45 L289.00,290.66 L289.50,289.84 L290.00,288.99 L290.50,288.12 L291.00,287.25 L291.50,286.38 L292.00,285.54 L292.50,284.73 L293.00,283.98 L293.50,283.29 L294.00,282.68 L294.50,282.16 L295.00,281.75 L295.50,281.45 L296.00,281.26 L296.50,281.20 L297.00,281.26 L297.50,281.45 L298.00,281.75 L298.50,282.16 L299.00,282.68 L299.50,283.29 L300.00,283.98 L300.50,284.73 L301.00,285.54 L301.50,286.38 L302.00,287.25 L302.50,288.12 L303.00,288.99 L303.50,289.84 L304.00,290.66 L304.50,291.45 L305.00,292.19 L305.50,292.89 L306.00,293.53 L306.50,294.12 L307.00,294.66 L307.50,295.14 L308.00,295.56 L308.50,295.94 L309.00,296.26 L309.50,296.55 L310.00,296.79 L310.50,296.99 L311.00,297.17 L311.50,297.31 L312.00,297.43 L312.50,297.53 L313.00,297.61 L313.50,297.67 L314.00,297.72 L314.50,297.76 L315.00,297.80 L315.50,297.82 L316.00,297.84 L316.50,297.86 L317.00,297.87 L317.50,297.88 L318.00,297.88 L318.50,297.89 L319.00,297.89 L319.50,297.89 L320.00,297.90 L320.50,297.90 L321.00,297.90 L321.50,297.90 L322.00,297.90 Z" fill="#4646f2" fill-opacity="0.85" stroke="#2222ff" stroke-width="1.5"/>
<path d="M290.00,297.89 L290.50,297.88 L291.00,297.87 L291.50,297.84 L292.00,297.80 L292.50,297.72 L293.00,297.60 L293.50,297.41 L294.00,297.12 L294.50,296.69 L295.00,296.08 L295.50,295.21 L296.00,294.04 L296.50,292.50 L297.00,290.54 L297.50,288.13 L298.00,285.26 L298.50,281.96 L299.00,278.33 L299.50,274.48 L300.00,270.59 L300.50,266.88 L301.00,263.57 L301.50,260.88 L302.00,259.00 L302.50,258.08 L303.00,258.19 L303.50,259.31 L304.00,261.36 L304.50,264.19 L305.00,267.60 L305.50,271.36 L306.00,275.26 L306.50,279.08 L307.00,282.65 L307.50,285.87 L308.00,288.65 L308.50,290.97 L309.00,292.84 L309.50,294.30 L310.00,295.41 L310.50,296.22 L311.00,296.79 L311.50,297.19 L312.00,297.46 L312.50,297.63 L313.00,297.74 L313.50,297.81 L314.00,297.85 L314.50,297.87 L315.00,297.88 L315.50,297.89 L316.00,297.90 Z" fill="#e64545" fill-opacity="0.72" stroke="#e02020" stroke-width="1"/>
<line x1="189.00" y1="297.90" x2="326.20" y2="297.90" stroke="#2222ff" stroke-width="1.6" />
<polyline points="189.50,296.33 190.20,295.67 190.90,297.57 191.60,295.38 192.30,297.14 193.00,296.49 193.70,295.32 194.40,297.03 195.10,295.24 195.80,296.75 196.50,295.37 197.20,295.44 197.90,296.71 198.60,298.24 199.30,295.57 200.00,295.95 200.70,297.48 201.40,298.70 202.10,297.29 202.80,296.61 203.50,298.81 204.20,295.28 204.90,298.36 205.60,296.20 206.30,295.65 207.00,295.55 207.70,296.27 208.40,298.20 209.10,295.79 209.80,297.31 210.50,297.53 211.20,296.52 211.90,297.18 212.60,295.34 213.30,295.33 214.00,295.88 214.70,297.69 215.40,296.72 216.10,296.29 216.80,297.33 217.50,296.82 218.20,296.24 218.90,298.12 219.60,297.76 220.30,296.03 221.00,297.28 221.70,297.10 222.40,298.43 223.10,297.87 223.80,296.19 224.50,298.82 225.20,295.55 225.90,296.69 226.60,297.98 227.30,295.68 228.00,296.96 228.70,295.25 229.40,297.64 230.10,298.01 230.80,297.28 231.50,298.43 232.20,296.29 232.90,297.74 233.60,297.36 234.30,297.30 235.00,296.83 235.70,298.29 236.40,298.69 237.10,296.90 237.80,297.62 238.50,295.33 239.20,297.77 239.90,297.56 240.60,298.87 241.30,298.22 242.00,296.18 242.70,296.57 243.40,297.64 244.10,295.19 244.80,296.85 245.50,295.74 246.20,295.54 246.90,295.32 247.60,298.02 248.30,295.59 249.00,296.03 249.70,296.57 250.40,298.39 251.10,295.37 251.80,296.75 252.50,297.09 253.20,298.30 253.90,297.89 254.60,297.62 255.30,294.43 256.00,293.39 256.70,291.51 257.40,292.68 258.10,293.48 258.80,291.78 259.50,293.18 260.20,294.13 260.90,294.40 261.60,295.42 262.30,295.83 263.00,294.63 263.70,293.73 264.40,295.42 265.10,295.36 265.80,296.26 266.50,297.87 267.20,297.01 267.90,296.47 268.60,296.95 269.30,297.24 270.00,294.93 270.70,298.16 271.40,297.70 272.10,298.03 272.80,297.69 273.50,296.08 274.20,296.02 274.90,294.79 275.60,296.67 276.30,294.35 277.00,294.20 277.70,294.54 278.40,294.14 279.10,294.56 279.80,293.17 280.50,292.64 281.20,292.83 281.90,292.21 282.60,292.71 283.30,290.87 284.00,293.46 284.70,291.76 285.40,289.20 286.10,288.72 286.80,288.13 287.50,287.16 288.20,285.14 288.90,286.74 289.60,286.10 290.30,282.90 291.00,281.78 291.70,279.12 292.40,278.09 293.10,277.97 293.80,276.68 294.50,277.80 295.20,274.11 295.90,272.16 296.60,273.81 297.30,269.70 298.00,265.03 298.70,262.61 299.40,256.23 300.10,253.63 300.80,251.33 301.50,248.02 302.20,246.22 302.90,245.47 303.60,248.87 304.30,252.93 305.00,261.30 305.70,267.03 306.40,274.52 307.10,278.73 307.80,283.30 308.50,289.44 309.20,292.98 309.90,294.51 310.60,295.70 311.30,296.63 312.00,296.89 312.70,295.29 313.40,296.62 314.10,296.15 314.80,295.00 315.50,295.06 316.20,296.06 316.90,296.02 317.60,297.69 318.30,298.70 319.00,296.78 319.70,298.65 320.40,298.85 321.10,298.72 321.80,296.48 322.50,295.94 323.20,295.96 323.90,295.85 324.60,295.88 325.30,297.47" fill="none" stroke="#000" stroke-width="1.8" stroke-linejoin="round" stroke-linecap="round" />
<text x="267.20" y="220.70" font-size="10.8" fill="#e8302a" text-anchor="middle" >C 1s</text>
<text x="268.00" y="231.80" font-size="8.0" fill="#e8302a" text-anchor="middle" >(283 eV)<tspan font-size="5.5" dy="-3">33</tspan></text>
<text x="263.00" y="252.00" font-size="10.8" fill="#2020f0" text-anchor="middle" >C-O</text>
<text x="263.80" y="262.50" font-size="8.0" fill="#2020f0" text-anchor="middle" >(285 eV)<tspan font-size="5.5" dy="-3">33</tspan></text>
<line x1="286.30" y1="233.90" x2="299.80" y2="257.80" stroke="#e8302a" stroke-width="0.9" />
<line x1="282.80" y1="256.70" x2="294.50" y2="277.70" stroke="#2020f0" stroke-width="0.9" />
<text x="346.50" y="197.50" font-size="15" fill="#000" font-weight="bold" >d</text>
<rect x="368.50" y="195.60" width="145.10" height="114.30" fill="none" stroke="#2a2a2a" stroke-width="1.1" />
<line x1="379.40" y1="309.90" x2="379.40" y2="312.40" stroke="#2a2a2a" stroke-width="0.9" />
<text x="379.40" y="322.30" font-size="10.5" fill="#111" text-anchor="middle" >350</text>
<line x1="395.20" y1="309.90" x2="395.20" y2="311.90" stroke="#2a2a2a" stroke-width="0.8" />
<line x1="411.00" y1="309.90" x2="411.00" y2="312.40" stroke="#2a2a2a" stroke-width="0.9" />
<text x="411.00" y="322.30" font-size="10.5" fill="#111" text-anchor="middle" >345</text>
<line x1="426.10" y1="309.90" x2="426.10" y2="311.90" stroke="#2a2a2a" stroke-width="0.8" />
<line x1="441.20" y1="309.90" x2="441.20" y2="312.40" stroke="#2a2a2a" stroke-width="0.9" />
<text x="441.20" y="322.30" font-size="10.5" fill="#111" text-anchor="middle" >340</text>
<line x1="456.95" y1="309.90" x2="456.95" y2="311.90" stroke="#2a2a2a" stroke-width="0.8" />
<line x1="472.70" y1="309.90" x2="472.70" y2="312.40" stroke="#2a2a2a" stroke-width="0.9" />
<text x="472.70" y="322.30" font-size="10.5" fill="#111" text-anchor="middle" >335</text>
<line x1="489.10" y1="309.90" x2="489.10" y2="311.90" stroke="#2a2a2a" stroke-width="0.8" />
<line x1="505.50" y1="309.90" x2="505.50" y2="312.40" stroke="#2a2a2a" stroke-width="0.9" />
<text x="505.50" y="322.30" font-size="10.5" fill="#111" text-anchor="middle" >330</text>
<text x="440.00" y="334.00" font-size="10.8" fill="#111" text-anchor="middle" textLength="92.6" lengthAdjust="spacingAndGlyphs" >Binding energy (eV)</text>
<text x="361.20" y="252.90" font-size="10.8" fill="#111" text-anchor="middle" textLength="97" lengthAdjust="spacingAndGlyphs" transform="rotate(-90 361.20 252.90)" dy="3.8">Intensity (arb. units)</text>
<text x="377.50" y="208.70" font-size="11" fill="#1212ee" font-style="italic" textLength="92.5" lengthAdjust="spacingAndGlyphs" >Contaminated state</text>
<line x1="449.20" y1="224.40" x2="449.20" y2="309.90" stroke="#111" stroke-width="1.1" stroke-dasharray="3,2.2"/>
<line x1="480.70" y1="217.90" x2="480.70" y2="309.90" stroke="#111" stroke-width="1.1" stroke-dasharray="3,2.2"/>
<path d="M369.00,290.20 C371.67,290.08 379.83,289.83 385.00,289.50 C390.17,289.17 396.50,288.55 400.00,288.20 C403.50,287.85 404.33,287.63 406.00,287.40 C407.67,287.17 408.50,286.80 410.00,286.80 C411.50,286.80 413.33,287.30 415.00,287.40 C416.67,287.50 418.33,287.67 420.00,287.40 C421.67,287.13 423.33,286.43 425.00,285.80 C426.67,285.17 428.00,284.47 430.00,283.60 C432.00,282.73 435.00,282.70 437.00,280.60 C439.00,278.50 440.50,275.10 442.00,271.00 C443.50,266.90 444.92,259.92 446.00,256.00 C447.08,252.08 447.77,249.47 448.50,247.50 C449.23,245.53 449.82,243.28 450.40,244.20 C450.98,245.12 451.40,248.37 452.00,253.00 C452.60,257.63 453.33,266.67 454.00,272.00 C454.67,277.33 455.33,282.17 456.00,285.00 C456.67,287.83 456.83,288.58 458.00,289.00 C459.17,289.42 461.33,288.08 463.00,287.50 C464.67,286.92 466.50,286.92 468.00,285.50 C469.50,284.08 470.67,282.42 472.00,279.00 C473.33,275.58 474.83,270.67 476.00,265.00 C477.17,259.33 478.00,250.92 479.00,245.00 C480.00,239.08 481.20,232.67 482.00,229.50 C482.80,226.33 483.22,225.25 483.80,226.00 C484.38,226.75 484.97,229.17 485.50,234.00 C486.03,238.83 486.58,247.33 487.00,255.00 C487.42,262.67 487.50,273.50 488.00,280.00 C488.50,286.50 489.17,290.83 490.00,294.00 C490.83,297.17 491.33,297.95 493.00,299.00 C494.67,300.05 496.67,299.97 500.00,300.30 C503.33,300.63 510.83,300.88 513.00,301.00" fill="none" stroke="#1212ee" stroke-width="3.0" stroke-linejoin="round" stroke-linecap="round" />
<g transform="translate(426.80,261.30) rotate(-90)">
<text x="0" y="0" font-size="10.8" fill="#111" textLength="26.3" lengthAdjust="spacingAndGlyphs">Pd 3d</text>
<text x="26.60" y="3.2" font-size="7" fill="#111" textLength="10.5" lengthAdjust="spacingAndGlyphs">3/2</text>
<text x="1.5" y="12.10" font-size="8.4" fill="#111" textLength="29.0" lengthAdjust="spacingAndGlyphs">(339 eV)</text>
<text x="30.60" y="9.40" font-size="5.8" fill="#111">34</text>
</g>
<g transform="translate(464.30,253.10) rotate(-90)">
<text x="0" y="0" font-size="10.8" fill="#111" textLength="26.5" lengthAdjust="spacingAndGlyphs">Pd 3d</text>
<text x="26.80" y="3.2" font-size="7" fill="#111" textLength="10.5" lengthAdjust="spacingAndGlyphs">5/2</text>
<text x="1.5" y="11.70" font-size="8.4" fill="#111" textLength="28.6" lengthAdjust="spacingAndGlyphs">(334 eV)</text>
<text x="30.20" y="9.00" font-size="5.8" fill="#111">34</text>
</g>
<rect x="530.50" y="195.20" width="145.10" height="115.00" fill="none" stroke="#2a2a2a" stroke-width="1.1" />
<line x1="554.00" y1="310.20" x2="554.00" y2="312.70" stroke="#2a2a2a" stroke-width="0.9" />
<text x="554.00" y="322.00" font-size="10.5" fill="#111" text-anchor="middle" >300</text>
<line x1="569.55" y1="310.20" x2="569.55" y2="312.20" stroke="#2a2a2a" stroke-width="0.8" />
<line x1="585.10" y1="310.20" x2="585.10" y2="312.70" stroke="#2a2a2a" stroke-width="0.9" />
<text x="585.10" y="322.00" font-size="10.5" fill="#111" text-anchor="middle" >295</text>
<line x1="600.40" y1="310.20" x2="600.40" y2="312.20" stroke="#2a2a2a" stroke-width="0.8" />
<line x1="615.70" y1="310.20" x2="615.70" y2="312.70" stroke="#2a2a2a" stroke-width="0.9" />
<text x="615.70" y="322.00" font-size="10.5" fill="#111" text-anchor="middle" >290</text>
<line x1="630.50" y1="310.20" x2="630.50" y2="312.20" stroke="#2a2a2a" stroke-width="0.8" />
<line x1="645.30" y1="310.20" x2="645.30" y2="312.70" stroke="#2a2a2a" stroke-width="0.9" />
<text x="645.30" y="322.00" font-size="10.5" fill="#111" text-anchor="middle" >285</text>
<line x1="660.85" y1="310.20" x2="660.85" y2="312.20" stroke="#2a2a2a" stroke-width="0.8" />
<line x1="676.40" y1="310.20" x2="676.40" y2="312.70" stroke="#2a2a2a" stroke-width="0.9" />
<text x="676.40" y="322.00" font-size="10.5" fill="#111" text-anchor="middle" >280</text>
<line x1="538.45" y1="310.20" x2="538.45" y2="312.20" stroke="#2a2a2a" stroke-width="0.8" />
<text x="606.30" y="334.20" font-size="10.8" fill="#111" text-anchor="middle" textLength="92.6" lengthAdjust="spacingAndGlyphs" >Binding energy (eV)</text>
<text x="522.60" y="250.00" font-size="10.8" fill="#111" text-anchor="middle" textLength="97" lengthAdjust="spacingAndGlyphs" transform="rotate(-90 522.60 250.00)" dy="3.8">Intensity (arb. units)</text>
<text x="539.30" y="208.90" font-size="11" fill="#1212ee" font-style="italic" textLength="93" lengthAdjust="spacingAndGlyphs" >Contaminated state</text>
<path d="M610.00,297.45 L610.50,297.43 L611.00,297.41 L611.50,297.39 L612.00,297.36 L612.50,297.33 L613.00,297.29 L613.50,297.24 L614.00,297.17 L614.50,297.10 L615.00,297.02 L615.50,296.92 L616.00,296.80 L616.50,296.66 L617.00,296.51 L617.50,296.33 L618.00,296.13 L618.50,295.90 L619.00,295.64 L619.50,295.36 L620.00,295.05 L620.50,294.71 L621.00,294.35 L621.50,293.95 L622.00,293.53 L622.50,293.09 L623.00,292.63 L623.50,292.15 L624.00,291.65 L624.50,291.15 L625.00,290.65 L625.50,290.15 L626.00,289.66 L626.50,289.18 L627.00,288.73 L627.50,288.32 L628.00,287.93 L628.50,287.59 L629.00,287.30 L629.50,287.06 L630.00,286.88 L630.50,286.76 L631.00,286.71 L631.50,286.71 L632.00,286.78 L632.50,286.91 L633.00,287.11 L633.50,287.36 L634.00,287.66 L634.50,288.01 L635.00,288.40 L635.50,288.82 L636.00,289.28 L636.50,289.75 L637.00,290.25 L637.50,290.75 L638.00,291.25 L638.50,291.75 L639.00,292.24 L639.50,292.72 L640.00,293.18 L640.50,293.62 L641.00,294.03 L641.50,294.42 L642.00,294.78 L642.50,295.12 L643.00,295.42 L643.50,295.70 L644.00,295.95 L644.50,296.17 L645.00,296.37 L645.50,296.54 L646.00,296.69 L646.50,296.82 L647.00,296.94 L647.50,297.03 L648.00,297.12 L648.50,297.19 L649.00,297.25 L649.50,297.29 L650.00,297.34 L650.50,297.37 L651.00,297.40 L651.50,297.42 L652.00,297.44 L652.50,297.45 L653.00,297.46 L653.50,297.47 L654.00,297.48 L654.50,297.48 L655.00,297.49 L655.50,297.49 L656.00,297.49 Z" fill="#5a5a5a" fill-opacity="0.9" stroke="#444" stroke-width="0.8"/>
<path d="M628.00,297.49 L628.50,297.48 L629.00,297.48 L629.50,297.46 L630.00,297.44 L630.50,297.42 L631.00,297.38 L631.50,297.33 L632.00,297.26 L632.50,297.17 L633.00,297.05 L633.50,296.89 L634.00,296.68 L634.50,296.43 L635.00,296.11 L635.50,295.72 L636.00,295.24 L636.50,294.69 L637.00,294.04 L637.50,293.31 L638.00,292.48 L638.50,291.57 L639.00,290.59 L639.50,289.56 L640.00,288.50 L640.50,287.43 L641.00,286.38 L641.50,285.39 L642.00,284.49 L642.50,283.71 L643.00,283.08 L643.50,282.63 L644.00,282.37 L644.50,282.30 L645.00,282.45 L645.50,282.79 L646.00,283.32 L646.50,284.01 L647.00,284.84 L647.50,285.78 L648.00,286.79 L648.50,287.85 L649.00,288.92 L649.50,289.98 L650.00,290.99 L650.50,291.94 L651.00,292.82 L651.50,293.61 L652.00,294.31 L652.50,294.92 L653.00,295.44 L653.50,295.88 L654.00,296.24 L654.50,296.54 L655.00,296.77 L655.50,296.96 L656.00,297.10 L656.50,297.21 L657.00,297.29 L657.50,297.35 L658.00,297.40 L658.50,297.43 L659.00,297.45 L659.50,297.47 L660.00,297.48 L660.50,297.49 L661.00,297.49 L661.50,297.49 L662.00,297.50 Z" fill="#4a4af5" fill-opacity="0.75" stroke="#2222ff" stroke-width="1.1"/>
<path d="M638.00,297.47 L638.50,297.44 L639.00,297.40 L639.50,297.33 L640.00,297.22 L640.50,297.04 L641.00,296.76 L641.50,296.34 L642.00,295.73 L642.50,294.85 L643.00,293.63 L643.50,291.98 L644.00,289.79 L644.50,286.99 L645.00,283.50 L645.50,279.27 L646.00,274.30 L646.50,268.65 L647.00,262.43 L647.50,255.85 L648.00,249.14 L648.50,242.64 L649.00,236.66 L649.50,231.57 L650.00,227.68 L650.50,225.23 L651.00,224.40 L651.50,225.23 L652.00,227.68 L652.50,231.57 L653.00,236.66 L653.50,242.64 L654.00,249.14 L654.50,255.85 L655.00,262.43 L655.50,268.65 L656.00,274.30 L656.50,279.27 L657.00,283.50 L657.50,286.99 L658.00,289.79 L658.50,291.98 L659.00,293.63 L659.50,294.85 L660.00,295.73 L660.50,296.34 L661.00,296.76 L661.50,297.04 L662.00,297.22 L662.50,297.33 L663.00,297.40 L663.50,297.44 L664.00,297.47 Z" fill="#e64545" fill-opacity="0.7" stroke="#cc2020" stroke-width="1"/>
<polyline points="531.00,300.02 531.60,296.54 532.20,296.12 532.80,298.24 533.40,298.17 534.00,297.48 534.60,296.48 535.20,295.59 535.80,298.44 536.40,295.88 537.00,297.19 537.60,298.11 538.20,298.28 538.80,296.87 539.40,299.09 540.00,294.70 540.60,296.96 541.20,298.80 541.80,299.97 542.40,297.31 543.00,298.33 543.60,298.59 544.20,299.64 544.80,300.29 545.40,298.25 546.00,297.31 546.60,299.68 547.20,294.77 547.80,297.34 548.40,296.99 549.00,297.34 549.60,297.79 550.20,301.44 550.80,298.31 551.40,297.06 552.00,296.72 552.60,299.27 553.20,297.44 553.80,299.68 554.40,296.25 555.00,298.24 555.60,298.96 556.20,297.74 556.80,298.93 557.40,297.14 558.00,297.48 558.60,297.40 559.20,298.34 559.80,299.03 560.40,297.35 561.00,296.34 561.60,298.45 562.20,299.12 562.80,297.23 563.40,299.33 564.00,297.24 564.60,296.45 565.20,297.69 565.80,299.39 566.40,298.16 567.00,298.05 567.60,298.11 568.20,298.24 568.80,297.24 569.40,295.94 570.00,298.35 570.60,296.92 571.20,297.60 571.80,296.36 572.40,297.81 573.00,298.13 573.60,297.40 574.20,297.09 574.80,297.64 575.40,297.62 576.00,300.20 576.60,296.33 577.20,297.92 577.80,298.18 578.40,295.14 579.00,296.32 579.60,298.62 580.20,296.44 580.80,297.95 581.40,297.50 582.00,296.66 582.60,296.55 583.20,297.69 583.80,299.88 584.40,297.28 585.00,300.22 585.60,295.83 586.20,297.90 586.80,299.66 587.40,300.33 588.00,297.13 588.60,298.43 589.20,298.50 589.80,297.53 590.40,298.18 591.00,298.03 591.60,298.51 592.20,296.90 592.80,296.01 593.40,298.60 594.00,297.55 594.60,297.60 595.20,296.13 595.80,299.68 596.40,300.11 597.00,298.90 597.60,297.81 598.20,299.25 598.80,297.61 599.40,294.50 600.00,298.31 600.60,298.38 601.20,297.33 601.80,296.58 602.40,298.65 603.00,297.54 603.60,298.73 604.20,297.13 604.80,299.89 605.40,299.64 606.00,298.20 606.60,297.76 607.20,298.08 607.80,297.09 608.40,299.56 609.00,297.49 609.60,297.92 610.20,300.22 610.80,297.70 611.40,298.49 612.00,297.75 612.60,297.77 613.20,298.12 613.80,297.87 614.40,296.58 615.00,298.42 615.60,298.34 616.20,299.24 616.80,295.74 617.40,296.75 618.00,297.28 618.60,297.72 619.20,295.09 619.80,295.36 620.40,294.57 621.00,296.50 621.60,294.84 622.20,293.14 622.80,293.24 623.40,294.11 624.00,291.08 624.60,291.31 625.20,289.97 625.80,290.15 626.40,288.86 627.00,289.59 627.60,287.04 628.20,286.77 628.80,288.63 629.40,287.82 630.00,286.18 630.60,287.55 631.20,287.51 631.80,286.38 632.40,287.00 633.00,286.69 633.60,286.95 634.20,287.07 634.80,287.93 635.40,286.19 636.00,289.01 636.60,286.48 637.20,288.15 637.80,286.87 638.40,286.96 639.00,286.27 639.60,284.68 640.20,285.82 640.80,282.96 641.40,280.86 642.00,280.14 642.60,275.94 643.20,277.63 643.80,276.81 644.40,273.59 645.00,267.13 645.60,264.67 646.20,259.31 646.80,251.28 647.40,243.52 648.00,238.26 648.60,232.63 649.20,225.28 649.80,221.86 650.40,216.53 651.00,217.25 651.60,219.41 652.20,224.79 652.80,231.98 653.40,239.96 654.00,248.73 654.60,257.16 655.20,264.63 655.80,273.46 656.40,280.09 657.00,286.28 657.60,286.71 658.20,291.43 658.80,293.17 659.40,295.62 660.00,297.62 660.60,296.42 661.20,297.72 661.80,296.79 662.40,298.21 663.00,301.32 663.60,297.14 664.20,297.05 664.80,297.71 665.40,299.09 666.00,297.76 666.60,297.96 667.20,298.05 667.80,296.91 668.40,299.00 669.00,297.13 669.60,297.98 670.20,297.87 670.80,298.00 671.40,297.95 672.00,298.56 672.60,297.69 673.20,298.22 673.80,299.10 674.40,298.16 675.00,298.19" fill="none" stroke="#1212ee" stroke-width="1.9" stroke-linejoin="round" stroke-linecap="round" />
<text x="598.00" y="222.00" font-size="10.8" fill="#e8302a" text-anchor="middle" >C 1s</text>
<text x="598.00" y="233.00" font-size="8.0" fill="#e8302a" text-anchor="middle" >(283 eV) <tspan font-size="5.5" dy="-3">33</tspan></text>
<text x="595.00" y="246.10" font-size="10.8" fill="#2020f0" text-anchor="middle" >C-O</text>
<text x="595.00" y="256.70" font-size="8.0" fill="#2020f0" text-anchor="middle" >(285 eV) <tspan font-size="5.5" dy="-3">33</tspan></text>
<text x="588.20" y="272.60" font-size="10.8" fill="#555" text-anchor="middle" >C=O</text>
<text x="588.50" y="283.60" font-size="8.0" fill="#555" text-anchor="middle" >(287 eV)<tspan font-size="5.5" dy="-3">33</tspan></text>
<line x1="619.50" y1="231.20" x2="644.40" y2="251.10" stroke="#e8302a" stroke-width="0.9" />
<line x1="610.70" y1="260.40" x2="640.00" y2="281.90" stroke="#2020f0" stroke-width="0.9" />
<line x1="605.80" y1="279.00" x2="623.00" y2="290.00" stroke="#444" stroke-width="0.9" />
<text x="4.80" y="366.50" font-size="16" fill="#000" font-weight="bold" >e</text>
<rect x="48.10" y="377.30" width="92.00" height="16.30" fill="#000" stroke="none" stroke-width="1" />
<text x="94.10" y="389.50" font-size="11" fill="#fff" text-anchor="middle" >H<tspan font-size="7.5" dy="2">2</tspan><tspan dy="-2">O adsorption</tspan></text>
<rect x="156.10" y="377.30" width="91.90" height="16.30" fill="#5a6b2a" stroke="none" stroke-width="1" />
<text x="202.05" y="389.50" font-size="11" fill="#fff" text-anchor="middle" >H<tspan font-size="7.5" dy="2">2</tspan><tspan dy="-2"> adsorption</tspan></text>
<rect x="264.50" y="377.30" width="91.80" height="16.30" fill="#1f78c8" stroke="none" stroke-width="1" />
<text x="310.40" y="389.50" font-size="11" fill="#fff" text-anchor="middle" >CO adsorption</text>
<rect x="373.10" y="377.30" width="91.10" height="16.30" fill="#d94244" stroke="none" stroke-width="1" />
<text x="418.65" y="389.50" font-size="11" fill="#fff" text-anchor="middle" >CO<tspan font-size="7.5" dy="2">2</tspan><tspan dy="-2"> adsorption</tspan></text>
<polygon points="44.00,466.30 88.40,466.30 101.60,462.80 110.40,455.00 121.80,434.70 132.30,415.30 88.40,415.30 74.40,423.30 66.10,428.00" fill="#2a8a96"/>
<circle cx="126.10" cy="425.00" r="10" fill="url(#pdb)"/>
<circle cx="74.40" cy="423.30" r="10.3" fill="url(#pdb)"/>
<circle cx="121.80" cy="434.70" r="10.3" fill="url(#pdb)"/>
<circle cx="110.40" cy="455.00" r="10.3" fill="url(#pdb)"/>
<circle cx="101.60" cy="462.80" r="10.3" fill="url(#pdb)"/>
<circle cx="88.40" cy="415.30" r="10.3" fill="url(#pd)"/>
<circle cx="110.40" cy="415.30" r="10.3" fill="url(#pd)"/>
<circle cx="132.30" cy="415.30" r="10.3" fill="url(#pd)"/>
<circle cx="66.10" cy="428.00" r="10.3" fill="url(#pd)"/>
<circle cx="88.40" cy="428.00" r="10.3" fill="url(#pd)"/>
<circle cx="110.40" cy="428.00" r="10.3" fill="url(#pd)"/>
<circle cx="55.10" cy="447.30" r="10.3" fill="url(#pd)"/>
<circle cx="76.70" cy="447.30" r="10.3" fill="url(#pd)"/>
<circle cx="98.90" cy="447.30" r="10.3" fill="url(#pd)"/>
<circle cx="44.00" cy="466.30" r="10.3" fill="url(#pd)"/>
<circle cx="66.10" cy="466.30" r="10.3" fill="url(#pd)"/>
<circle cx="88.40" cy="466.30" r="10.3" fill="url(#pd)"/>
<polygon points="44.60,466.30 78.80,410.20 142.80,410.20 110.40,466.30" fill="none" stroke="#1a3a40" stroke-width="0.6" stroke-opacity="0.35"/>
<circle cx="96.00" cy="438.20" r="2.7" fill="url(#hy)"/>
<circle cx="96.30" cy="446.00" r="5.2" fill="url(#ox)"/>
<circle cx="88.30" cy="449.80" r="2.8" fill="url(#hy)"/>
<polygon points="154.80,466.00 199.20,466.00 212.40,462.50 221.20,454.70 232.60,434.40 243.10,415.00 199.20,415.00 185.20,423.00 176.90,427.70" fill="#2a8a96"/>
<circle cx="236.90" cy="424.70" r="10" fill="url(#pdb)"/>
<circle cx="185.20" cy="423.00" r="10.3" fill="url(#pdb)"/>
<circle cx="232.60" cy="434.40" r="10.3" fill="url(#pdb)"/>
<circle cx="221.20" cy="454.70" r="10.3" fill="url(#pdb)"/>
<circle cx="212.40" cy="462.50" r="10.3" fill="url(#pdb)"/>
<circle cx="199.20" cy="415.00" r="10.3" fill="url(#pd)"/>
<circle cx="221.20" cy="415.00" r="10.3" fill="url(#pd)"/>
<circle cx="243.10" cy="415.00" r="10.3" fill="url(#pd)"/>
<circle cx="176.90" cy="427.70" r="10.3" fill="url(#pd)"/>
<circle cx="199.20" cy="427.70" r="10.3" fill="url(#pd)"/>
<circle cx="221.20" cy="427.70" r="10.3" fill="url(#pd)"/>
<circle cx="165.90" cy="447.00" r="10.3" fill="url(#pd)"/>
<circle cx="187.50" cy="447.00" r="10.3" fill="url(#pd)"/>
<circle cx="209.70" cy="447.00" r="10.3" fill="url(#pd)"/>
<circle cx="154.80" cy="466.00" r="10.3" fill="url(#pd)"/>
<circle cx="176.90" cy="466.00" r="10.3" fill="url(#pd)"/>
<circle cx="199.20" cy="466.00" r="10.3" fill="url(#pd)"/>
<polygon points="155.40,466.00 189.60,409.90 253.60,409.90 221.20,466.00" fill="none" stroke="#1a3a40" stroke-width="0.6" stroke-opacity="0.35"/>
<circle cx="197.30" cy="439.70" r="3.0" fill="url(#hy)"/>
<circle cx="197.30" cy="455.20" r="3.0" fill="url(#hy)"/>
<polygon points="266.10,469.30 310.50,469.30 323.70,465.80 332.50,458.00 343.90,437.70 354.40,418.30 310.50,418.30 296.50,426.30 288.20,431.00" fill="#2a8a96"/>
<circle cx="348.20" cy="428.00" r="10" fill="url(#pdb)"/>
<circle cx="296.50" cy="426.30" r="10.3" fill="url(#pdb)"/>
<circle cx="343.90" cy="437.70" r="10.3" fill="url(#pdb)"/>
<circle cx="332.50" cy="458.00" r="10.3" fill="url(#pdb)"/>
<circle cx="323.70" cy="465.80" r="10.3" fill="url(#pdb)"/>
<circle cx="310.50" cy="418.30" r="10.3" fill="url(#pd)"/>
<circle cx="332.50" cy="418.30" r="10.3" fill="url(#pd)"/>
<circle cx="354.40" cy="418.30" r="10.3" fill="url(#pd)"/>
<circle cx="288.20" cy="431.00" r="10.3" fill="url(#pd)"/>
<circle cx="310.50" cy="431.00" r="10.3" fill="url(#pd)"/>
<circle cx="332.50" cy="431.00" r="10.3" fill="url(#pd)"/>
<circle cx="277.20" cy="450.30" r="10.3" fill="url(#pd)"/>
<circle cx="298.80" cy="450.30" r="10.3" fill="url(#pd)"/>
<circle cx="321.00" cy="450.30" r="10.3" fill="url(#pd)"/>
<circle cx="266.10" cy="469.30" r="10.3" fill="url(#pd)"/>
<circle cx="288.20" cy="469.30" r="10.3" fill="url(#pd)"/>
<circle cx="310.50" cy="469.30" r="10.3" fill="url(#pd)"/>
<polygon points="266.70,469.30 300.90,413.20 364.90,413.20 332.50,469.30" fill="none" stroke="#1a3a40" stroke-width="0.6" stroke-opacity="0.35"/>
<circle cx="310.20" cy="444.40" r="5.6" fill="url(#ox)"/>
<polygon points="378.40,465.80 422.80,465.80 436.00,462.30 444.80,454.50 456.20,434.20 466.70,414.80 422.80,414.80 408.80,422.80 400.50,427.50" fill="#2a8a96"/>
<circle cx="460.50" cy="424.50" r="10" fill="url(#pdb)"/>
<circle cx="408.80" cy="422.80" r="10.3" fill="url(#pdb)"/>
<circle cx="456.20" cy="434.20" r="10.3" fill="url(#pdb)"/>
<circle cx="444.80" cy="454.50" r="10.3" fill="url(#pdb)"/>
<circle cx="436.00" cy="462.30" r="10.3" fill="url(#pdb)"/>
<circle cx="422.80" cy="414.80" r="10.3" fill="url(#pd)"/>
<circle cx="444.80" cy="414.80" r="10.3" fill="url(#pd)"/>
<circle cx="466.70" cy="414.80" r="10.3" fill="url(#pd)"/>
<circle cx="400.50" cy="427.50" r="10.3" fill="url(#pd)"/>
<circle cx="422.80" cy="427.50" r="10.3" fill="url(#pd)"/>
<circle cx="444.80" cy="427.50" r="10.3" fill="url(#pd)"/>
<circle cx="389.50" cy="446.80" r="10.3" fill="url(#pd)"/>
<circle cx="411.10" cy="446.80" r="10.3" fill="url(#pd)"/>
<circle cx="433.30" cy="446.80" r="10.3" fill="url(#pd)"/>
<circle cx="378.40" cy="465.80" r="10.3" fill="url(#pd)"/>
<circle cx="400.50" cy="465.80" r="10.3" fill="url(#pd)"/>
<circle cx="422.80" cy="465.80" r="10.3" fill="url(#pd)"/>
<polygon points="379.00,465.80 413.20,409.70 477.20,409.70 444.80,465.80" fill="none" stroke="#1a3a40" stroke-width="0.6" stroke-opacity="0.35"/>
<circle cx="409.60" cy="447.40" r="5.0" fill="url(#ox)"/>
<circle cx="429.00" cy="447.40" r="5.0" fill="url(#ox)"/>
<circle cx="419.60" cy="447.40" r="5.6" fill="url(#ca)"/>
<ellipse cx="296.5" cy="503.5" rx="9" ry="3" fill="#000" fill-opacity="0.12"/>
<circle cx="294.1" cy="495.8" r="9.7" fill="url(#pd)"/>
<text x="307.40" y="500.00" font-size="11" fill="#111" font-weight="bold" textLength="12.5" lengthAdjust="spacingAndGlyphs" >Pd</text>
<circle cx="343" cy="495.8" r="5.5" fill="url(#ox)"/>
<text x="354.00" y="500.00" font-size="11" fill="#111" font-weight="bold" >O</text>
<circle cx="387.3" cy="495.6" r="5.5" fill="url(#ca)"/>
<text x="399.00" y="500.00" font-size="11" fill="#111" font-weight="bold" >C</text>
<circle cx="430" cy="496" r="3.5" fill="url(#hy)"/>
<text x="439.20" y="500.00" font-size="11" fill="#111" font-weight="bold" >H</text>
<text x="487.00" y="369.70" font-size="15" fill="#000" font-weight="bold" >f</text>
<rect x="531.30" y="408.20" width="16.70" height="10.38" fill="#808080" stroke="none" stroke-width="1" />
<rect x="571.30" y="408.20" width="16.30" height="30.10" fill="#808080" stroke="none" stroke-width="1" />
<rect x="610.80" y="408.20" width="16.20" height="70.24" fill="#808080" stroke="none" stroke-width="1" />
<rect x="651.00" y="408.20" width="16.10" height="5.88" fill="#808080" stroke="none" stroke-width="1" />
<rect x="519.40" y="390.80" width="159.60" height="95.40" fill="none" stroke="#222" stroke-width="1.1" />
<line x1="519.40" y1="408.20" x2="679.00" y2="408.20" stroke="#000" stroke-width="1.5" />
<line x1="516.40" y1="408.20" x2="519.40" y2="408.20" stroke="#222" stroke-width="0.9" />
<text x="509.30" y="412.00" font-size="10.5" fill="#111" text-anchor="end" >0</text>
<line x1="516.40" y1="442.80" x2="519.40" y2="442.80" stroke="#222" stroke-width="0.9" />
<text x="509.30" y="446.60" font-size="10.5" fill="#111" text-anchor="end" >-1</text>
<line x1="516.40" y1="477.40" x2="519.40" y2="477.40" stroke="#222" stroke-width="0.9" />
<text x="509.30" y="481.20" font-size="10.5" fill="#111" text-anchor="end" >-2</text>
<line x1="517.40" y1="390.90" x2="519.40" y2="390.90" stroke="#222" stroke-width="0.8" />
<line x1="517.40" y1="425.50" x2="519.40" y2="425.50" stroke="#222" stroke-width="0.8" />
<line x1="517.40" y1="460.10" x2="519.40" y2="460.10" stroke="#222" stroke-width="0.8" />
<line x1="539.60" y1="486.20" x2="539.60" y2="488.70" stroke="#222" stroke-width="0.9" />
<line x1="579.50" y1="486.20" x2="579.50" y2="488.70" stroke="#222" stroke-width="0.9" />
<line x1="619.00" y1="486.20" x2="619.00" y2="488.70" stroke="#222" stroke-width="0.9" />
<line x1="659.00" y1="486.20" x2="659.00" y2="488.70" stroke="#222" stroke-width="0.9" />
<text x="540.00" y="503.20" font-size="11" fill="#111" text-anchor="middle" font-weight="bold" >H<tspan font-size="7.5" dy="2">2</tspan><tspan dy="-2">O</tspan></text>
<text x="580.50" y="503.20" font-size="11" fill="#5a6b2a" text-anchor="middle" font-weight="bold" >H<tspan font-size="7.5" dy="2">2</tspan></text>
<text x="619.20" y="503.20" font-size="11" fill="#1f78c8" text-anchor="middle" font-weight="bold" >CO</text>
<text x="660.40" y="503.20" font-size="11" fill="#d94244" text-anchor="middle" font-weight="bold" >CO<tspan font-size="7.5" dy="2">2</tspan></text>
<text x="491.50" y="436.00" font-size="10.8" fill="#111" text-anchor="middle" transform="rotate(-90 491.50 436.00)" >Adsorption energy (eV)</text>
</g></svg></body></html>
